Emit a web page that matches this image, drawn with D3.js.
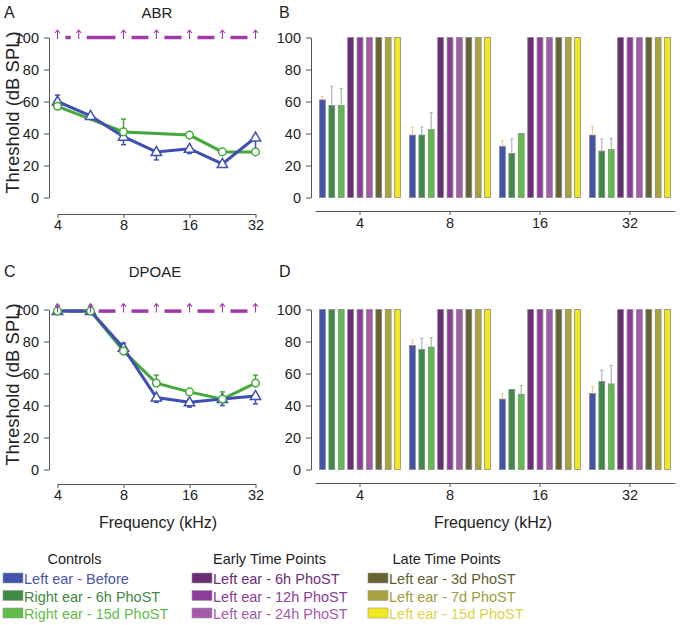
<!DOCTYPE html>
<html>
<head>
<meta charset="utf-8">
<script src="https://cdn.jsdelivr.net/npm/d3@7"></script>
<style>
  body { margin: 0; background: #fff; }
  svg, svg text { font-family: "Liberation Sans", Arial, Helvetica, sans-serif; }
</style>
</head>
<body>
<div id="fig"></div>
<script>
// ---- data ----
var lineFreqs = [4, 5.66, 8, 11.3, 16, 22.6, 32];

var abrBlue = [60, 51, 38, 28.5, 30.5, 21, 37.5];
var abrBlueErr = [4, 0, -5, -5, -3, -2, -7];
var abrGreenFreqs = [4, 8, 16, 22.6, 32];
var abrGreen = [57, 41, 39, 28.5, 28.5];
var abrGreenErr = [0, 8, 0, 0, 0];
var abrArrowFreqs = [4, 5, 8, 11.3, 16, 22.6, 32];
var abrArrowLevel = 100;

var dpBlue = [99, 99, 76, 45, 42, 44, 46];
var dpBlueErr = [0, 0, 3, -3, -3, -4, -5];
var dpGreenFreqs = [4, 5.66, 8, 11.3, 16, 22.6, 32];
var dpGreen = [99, 99, 74, 54, 48.5, 44, 54];
var dpGreenErr = [0, 0, 0, 5, 0, 4.5, 5];
var dpArrowFreqs = [4, 5.66, 8, 11.3, 16, 22.6, 32];
var dpArrowLevel = 99;

var barFreqs = ["4", "8", "16", "32"];
var groupNames = ["Controls", "Early Time Points", "Late Time Points"];
var seriesNames = ["Left ear - Before", "Right ear - 6h PhoST", "Right ear - 15d PhoST",
                   "Left ear - 6h PhoST", "Left ear - 12h PhoST", "Left ear - 24h PhoST",
                   "Left ear - 3d PhoST", "Left ear - 7d PhoST", "Left ear - 15d PhoST"];
var seriesColors = ["#4353aa", "#3f8a45", "#5fbd4c", "#6a2d77", "#8e3c9b", "#a65aab",
                    "#66652f", "#aaa23c", "#f3e81c"];
var legendTextColors = ["#4a56ad", "#3f8a45", "#5fbd4c", "#6a2d77", "#8e3c9b", "#a65aab",
                        "#5f5e2e", "#a39c3c", "#ddd34a"];
var errColors = ["#f4c27c", "#9da7c0", "#98ad92"];

// rows = frequency, columns = series (first three carry error bars)
var abrBars = [
  [61, 57.5, 57.5, 100, 100, 100, 100, 100, 100],
  [39, 39, 42.5, 100, 100, 100, 100, 100, 100],
  [32, 27.5, 40, 100, 100, 100, 100, 100, 100],
  [39, 29, 30, 100, 100, 100, 100, 100, 100]];
var abrBarErr = [[2, 12, 10.5], [5, 5, 10.5], [3.5, 9, 0], [5.5, 7.5, 7]];
var dpBars = [
  [100, 100, 100, 100, 100, 100, 100, 100, 100],
  [77.5, 75, 76.5, 100, 100, 100, 100, 100, 100],
  [44, 50, 47, 100, 100, 100, 100, 100, 100],
  [47.5, 55, 53.5, 100, 100, 100, 100, 100, 100]];
var dpBarErr = [[0, 0, 0], [3.5, 7, 6], [3.5, 0, 5.5], [4.5, 7, 11.5]];

var yTicks = [0, 20, 40, 60, 80, 100];
var xTicks = [4, 8, 16, 32];

var blue = "#3f4fb3", green = "#46a83a", magenta = "#a03aa8";
var font = "'Liberation Sans', Arial, Helvetica, sans-serif";

var svg = d3.select("#fig").append("svg")
    .attr("width", 680).attr("height", 625);

function styleAxis(g) {
  g.attr("font-family", font);
  g.selectAll("text").style("font-size", "14.5px").attr("fill", "#222");
  g.selectAll("path,line").attr("stroke", "#555");
}

function yAxis(y, x0) {
  var g = svg.append("g")
      .attr("transform", "translate(" + x0 + ",0)")
      .call(d3.axisLeft(y).tickValues(yTicks).tickSize(5).tickSizeOuter(0).tickPadding(5));
  styleAxis(g);
  return g;
}

function linePanel(top, xAxisY, blueVals, blueErr, gFreqs, gVals, gErr, arrowFreqs, arrowLevel) {
  var x = d3.scaleLog().base(2).domain([4, 32]).range([57.5, 255.5]);
  var y = d3.scaleLinear().domain([0, 100]).range([top + 160, top]);

  yAxis(y, 49);

  var xg = svg.append("g")
      .attr("transform", "translate(0," + xAxisY + ")")
      .call(d3.axisBottom(x).tickValues(xTicks).tickFormat(d3.format("d"))
        .tickSize(4).tickSizeOuter(0).tickPadding(2));
  styleAxis(xg);

  // dashed "no response" line with arrows
  for (var i = 0; i < arrowFreqs.length - 1; i++) {
    svg.append("line")
      .attr("x1", x(arrowFreqs[i]) + 8).attr("x2", x(arrowFreqs[i + 1]) - 8)
      .attr("y1", y(arrowLevel)).attr("y2", y(arrowLevel))
      .attr("stroke", magenta).attr("stroke-width", 3.5);
  }

  var blueData = lineFreqs.map(function(f, i) { return {f: f, v: blueVals[i], e: blueErr[i]}; });
  var greenData = gFreqs.map(function(f, i) { return {f: f, v: gVals[i], e: gErr[i]}; });
  var line = d3.line().x(function(d) { return x(d.f); }).y(function(d) { return y(d.v); });

  svg.append("path").datum(greenData).attr("d", line)
    .attr("fill", "none").attr("stroke", green).attr("stroke-width", 3);
  svg.append("path").datum(blueData).attr("d", line)
    .attr("fill", "none").attr("stroke", blue).attr("stroke-width", 3);

  [[blueData, blue], [greenData, green]].forEach(function(s) {
    var eb = svg.append("g").selectAll("g")
      .data(s[0].filter(function(d) { return d.e !== 0; }))
      .enter().append("g").attr("stroke", s[1]).attr("stroke-width", 1.5);
    eb.append("line")
      .attr("x1", function(d) { return x(d.f); }).attr("x2", function(d) { return x(d.f); })
      .attr("y1", function(d) { return y(d.v); }).attr("y2", function(d) { return y(d.v + d.e); });
    eb.append("line")
      .attr("x1", function(d) { return x(d.f) - 2.5; }).attr("x2", function(d) { return x(d.f) + 2.5; })
      .attr("y1", function(d) { return y(d.v + d.e); }).attr("y2", function(d) { return y(d.v + d.e); });
  });

  svg.append("g").selectAll("path")
    .data(blueData).enter().append("path")
    .attr("d", d3.symbol().type(d3.symbolTriangle).size(46))
    .attr("transform", function(d) { return "translate(" + x(d.f) + "," + (y(d.v) + 0.5) + ")"; })
    .attr("fill", "#fff").attr("stroke", blue).attr("stroke-width", 1.5);

  svg.append("g").selectAll("circle")
    .data(greenData).enter().append("circle")
    .attr("cx", function(d) { return x(d.f); }).attr("cy", function(d) { return y(d.v); })
    .attr("r", 3.8)
    .attr("fill", "#fff").attr("stroke", green).attr("stroke-width", 1.5);

  // arrows
  svg.append("g").selectAll("path")
    .data(arrowFreqs).enter().append("path")
    .attr("d", function(f) {
      var ax = x(f), ay = y(arrowLevel);
      return "M" + ax + "," + (ay + 1.5) + "V" + (ay - 7.5) +
             "M" + (ax - 2.5) + "," + (ay - 4.5) + "L" + ax + "," + (ay - 7.5) + "L" + (ax + 2.5) + "," + (ay - 4.5);
    })
    .attr("fill", "none").attr("stroke", magenta).attr("stroke-width", 1.1);

  svg.append("text")
    .attr("transform", "translate(18.5," + (top + 75) + ") rotate(-90)")
    .style("text-anchor", "middle").style("font-size", "18.5px").attr("fill", "#222")
    .text("Threshold (dB SPL)");
}

function barPanel(top, xAxisY, vals, errs) {
  var x = d3.scaleBand().domain(barFreqs).range([315, 675]).paddingInner(0.1).paddingOuter(0.05);
  var xi = d3.scaleBand().domain(d3.range(9)).range([0, x.bandwidth()]).paddingInner(0.38).paddingOuter(0);
  var y = d3.scaleLinear().domain([0, 100]).range([top + 160, top]);

  yAxis(y, 311);

  var xg = svg.append("g")
      .attr("transform", "translate(0," + xAxisY + ")")
      .call(d3.axisBottom(x).tickSize(4).tickSizeOuter(0).tickPadding(3));
  styleAxis(xg);

  var groups = svg.append("g").selectAll("g")
    .data(vals).enter().append("g")
    .attr("transform", function(d, i) { return "translate(" + x(barFreqs[i]) + ",0)"; });

  groups.selectAll("rect")
    .data(function(d) { return d; }).enter().append("rect")
    .attr("x", function(d, j) { return xi(j); })
    .attr("y", function(d) { return y(d); })
    .attr("width", xi.bandwidth())
    .attr("height", function(d) { return y(0) - y(d); })
    .attr("fill", function(d, j) { return seriesColors[j]; })
    .attr("stroke", "#888").attr("stroke-width", 0.8);

  groups.each(function(d, i) {
    var g = d3.select(this);
    errs[i].forEach(function(e, j) {
      if (!e) return;
      var cx = xi(j) + xi.bandwidth() / 2;
      g.append("path")
        .attr("d", "M" + cx + "," + y(d[j]) + "V" + y(d[j] + e) + "M" + (cx - 1.5) + "," + y(d[j] + e) + "H" + (cx + 1.5))
        .attr("fill", "none").attr("stroke", errColors[j]).attr("stroke-width", 1);
    });
  });
}

linePanel(37.5, 214, abrBlue, abrBlueErr, abrGreenFreqs, abrGreen, abrGreenErr, abrArrowFreqs, abrArrowLevel);
linePanel(309.5, 484, dpBlue, dpBlueErr, dpGreenFreqs, dpGreen, dpGreenErr, dpArrowFreqs, dpArrowLevel);
barPanel(37.5, 211, abrBars, abrBarErr);
barPanel(309.5, 483, dpBars, dpBarErr);

// panel letters and titles
var labels = [["A", 4, 18], ["B", 279, 18], ["C", 4, 277], ["D", 279, 277]];
labels.forEach(function(l) {
  svg.append("text").attr("x", l[1]).attr("y", l[2])
    .style("font-size", "16px").attr("fill", "#222").text(l[0]);
});
svg.append("text").attr("x", 157).attr("y", 18).style("text-anchor", "middle")
  .style("font-size", "15px").attr("fill", "#222").text("ABR");
svg.append("text").attr("x", 155).attr("y", 277).style("text-anchor", "middle")
  .style("font-size", "15px").attr("fill", "#222").text("DPOAE");

svg.append("text").attr("x", 158).attr("y", 528).style("text-anchor", "middle")
  .style("font-size", "16px").attr("fill", "#222").text("Frequency (kHz)");
svg.append("text").attr("x", 493).attr("y", 528).style("text-anchor", "middle")
  .style("font-size", "16px").attr("fill", "#222").text("Frequency (kHz)");

// legend
var legX = [3, 192, 368];
var headX = [74.5, 269.5, 446.5];
groupNames.forEach(function(name, gi) {
  svg.append("text").attr("x", headX[gi]).attr("y", 564).style("text-anchor", "middle")
    .style("font-size", "14.5px").attr("fill", "#222").text(name);
  for (var k = 0; k < 3; k++) {
    var j = gi * 3 + k;
    var yy = 584 + k * 17.5;
    svg.append("rect").attr("x", legX[gi]).attr("y", yy - 11).attr("width", 20).attr("height", 10)
      .attr("fill", seriesColors[j]).attr("stroke", "#999").attr("stroke-width", 0.6);
    svg.append("text").attr("x", legX[gi] + 21).attr("y", yy)
      .style("font-size", "14.5px").attr("fill", legendTextColors[j]).text(seriesNames[j]);
  }
});
</script>
</body>
</html>
